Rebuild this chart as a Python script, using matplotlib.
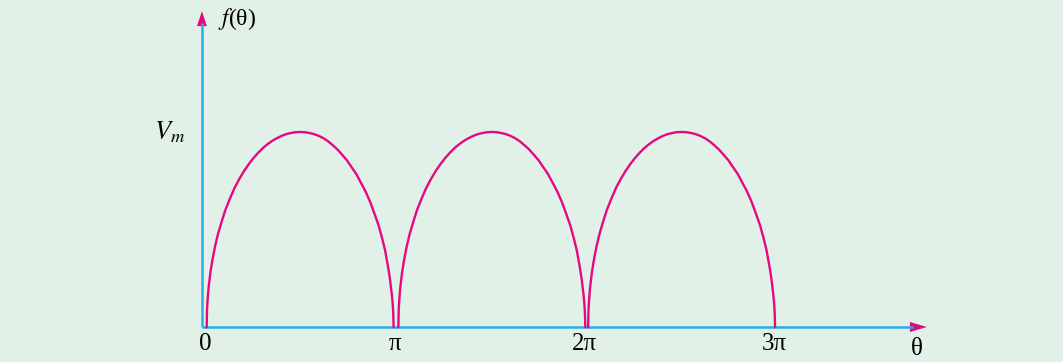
import numpy as np
import matplotlib.pyplot as plt
from matplotlib.patches import Polygon

# one arch profile (theta as fraction of pi, f/Vm)
arch_t = [0.0, 0.002, 0.005, 0.01, 0.02, 0.03, 0.045, 0.06, 0.08, 0.10, 0.125, 0.15, 0.175,
          0.20, 0.225, 0.25, 0.275, 0.30, 0.325, 0.35, 0.375, 0.40, 0.425, 0.45, 0.475, 0.50,
          0.525, 0.55, 0.575, 0.60, 0.625, 0.65, 0.675, 0.70, 0.725, 0.75, 0.775, 0.80,
          0.825, 0.85, 0.875, 0.90, 0.92, 0.94, 0.955, 0.97, 0.98, 0.99, 0.995, 0.998, 1.0]
arch_f = [0.0, 0.09, 0.14, 0.20, 0.28, 0.34, 0.415, 0.475, 0.54, 0.60, 0.66, 0.715, 0.76,
          0.80, 0.835, 0.866, 0.893, 0.917, 0.937, 0.954, 0.968, 0.98, 0.989, 0.995, 0.999, 1.0,
          0.999, 0.995, 0.989, 0.98, 0.968, 0.952, 0.932, 0.91, 0.883, 0.855, 0.82, 0.785,
          0.74, 0.695, 0.64, 0.575, 0.52, 0.45, 0.39, 0.31, 0.25, 0.17, 0.12, 0.07, 0.0]
arch_start = [0.0, 1.01, 2.01]   # in units of pi
arch_width = 0.985
tick_pos = [0, 1, 2, 3]
tick_lab = ['0', 'π', '2π', '3π']

bg = '#e2f1e7'
blue = '#2aaee3'
pink = '#e5097f'

fig = plt.figure(figsize=(10.63, 3.62), dpi=100, facecolor=bg)
ax = fig.add_axes([0, 0, 1, 1])
ax.set_facecolor(bg)
ax.set_xlim(-1.089, 4.512)
ax.set_ylim(-0.1795, 1.677)
ax.axis('off')

# axes
yax = -0.025
ax.plot([yax, yax], [0, 1.56], color=blue, lw=1.8, solid_capstyle='butt')
ax.plot([yax, 3.72], [0, 0], color=blue, lw=1.8, solid_capstyle='butt')
# arrow heads
px = 1/189.8
py = 1/195
ax.add_patch(Polygon([[yax - 5*px, 1.62 - 15*py], [yax + 5*px, 1.62 - 15*py], [yax, 1.62]],
                     closed=True, color=pink, lw=0))
ax.add_patch(Polygon([[3.795 - 17*px, 5*py], [3.795 - 17*px, -5*py], [3.795, 0]],
                     closed=True, color=pink, lw=0))

for s in arch_start:
    ax.plot(s + np.array(arch_t)*arch_width, arch_f, color=pink, lw=1.7)

serif = 'Liberation Serif'
for p, l in zip(tick_pos, tick_lab):
    ax.text(p - 0.01, -0.03, l, ha='center', va='top', fontsize=18, family=serif)

ax.text(3.74, -0.115, 'θ', ha='center', va='center', fontsize=18, family=serif)
ax.text(0.06, 1.58, '$f$(θ)', ha='left', va='center', fontsize=17, family=serif,
        math_fontfamily='stix')
ax.text(-0.115, 1.0, '$V_m$', ha='right', va='center', fontsize=19,
        math_fontfamily='stix')

fig.savefig('out.png', dpi=100, facecolor=bg)
